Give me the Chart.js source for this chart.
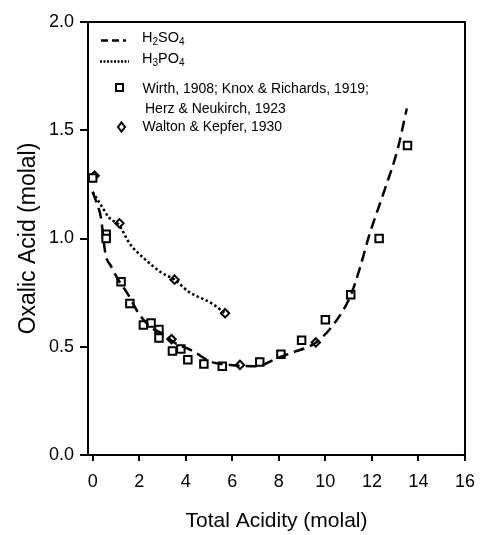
<!DOCTYPE html>
<html>
<head>
<meta charset="utf-8">
<script src="https://cdn.jsdelivr.net/npm/chart.js@4/dist/chart.umd.min.js"></script>
<style>
html,body{margin:0;padding:0;background:#fff;}
canvas{display:block;}
</style>
</head>
<body>
<canvas id="c" width="485" height="535"></canvas>
<script>
// H2SO4 model curve
const h2so4X = [0, 0.15, 0.35, 0.55, 0.8, 1.1, 1.5, 2.0, 2.5, 3.0, 3.5, 4.3, 5.1, 6.0, 7.0, 8.0, 8.5, 9.6, 10.4, 11.1, 11.5, 11.9, 12.5, 13.1, 13.5];
const h2so4Y = [1.215, 1.17, 1.1, 0.93, 0.87, 0.81, 0.745, 0.65, 0.59, 0.56, 0.52, 0.48, 0.43, 0.415, 0.41, 0.45, 0.47, 0.52, 0.61, 0.74, 0.87, 1.02, 1.21, 1.41, 1.60];
// H3PO4 model curve
const h3po4X = [0, 0.3, 0.72, 1.15, 1.57, 2.29, 2.99, 3.52, 4.13, 5.12, 5.69];
const h3po4Y = [1.215, 1.164, 1.095, 1.06, 0.98, 0.90, 0.84, 0.81, 0.754, 0.70, 0.655];
// Wirth 1908; Knox & Richards 1919; Herz & Neukirch 1923
const wirthX = [0.0, 0.58, 0.58, 1.22, 1.6, 2.18, 2.51, 2.85, 2.85, 3.43, 3.79, 4.09, 4.78, 5.57, 7.18, 8.09, 8.98, 10.0, 11.09, 12.31, 13.53];
const wirthY = [1.28, 1.02, 1.0, 0.80, 0.70, 0.60, 0.61, 0.58, 0.54, 0.48, 0.49, 0.44, 0.42, 0.41, 0.43, 0.465, 0.53, 0.625, 0.74, 1.0, 1.43];
// Walton & Kepfer 1930
const waltonX = [0.08, 1.15, 3.39, 3.52, 5.69, 6.33, 9.59];
const waltonY = [1.29, 1.07, 0.535, 0.81, 0.655, 0.416, 0.52];
// axis ticks
const xTicks = [0, 2, 4, 6, 8, 10, 12, 14, 16];
const yTicks = [0.0, 0.5, 1.0, 1.5, 2.0];

const pts = (xs, ys) => xs.map((x, i) => ({x: x, y: ys[i]}));
const FONT = "'Liberation Sans', Arial, sans-serif";

const framePlugin = {
  id: 'frame',
  afterDatasetsDraw(chart) {
    const {ctx, chartArea: a} = chart;
    ctx.save();
    ctx.strokeStyle = '#000';
    ctx.lineWidth = 2;
    ctx.beginPath();
    ctx.moveTo(a.left, a.top);
    ctx.lineTo(a.right, a.top);
    ctx.lineTo(a.right, a.bottom);
    ctx.stroke();
    ctx.restore();
  }
};

function drawFormula(ctx, parts, x, y, big, small) {
  let cx = x;
  parts.forEach(([t, sub]) => {
    ctx.font = (sub ? small : big) + 'px ' + FONT;
    ctx.fillText(t, cx, sub ? y + 3 : y);
    cx += ctx.measureText(t).width;
  });
}

const legendPlugin = {
  id: 'customLegend',
  afterDraw(chart) {
    const ctx = chart.ctx;
    ctx.save();
    ctx.fillStyle = '#000';
    ctx.strokeStyle = '#000';
    ctx.textBaseline = 'alphabetic';
    // H2SO4 sample
    ctx.lineWidth = 2.5;
    ctx.setLineDash([7, 4]);
    ctx.beginPath(); ctx.moveTo(101, 40.5); ctx.lineTo(126, 40.5); ctx.stroke();
    drawFormula(ctx, [['H', 0], ['2', 1], ['SO', 0], ['4', 1]], 142, 42, 14.5, 10);
    // H3PO4 sample
    ctx.setLineDash([2, 1.5]);
    ctx.beginPath(); ctx.moveTo(100, 61.5); ctx.lineTo(129, 61.5); ctx.stroke();
    drawFormula(ctx, [['H', 0], ['3', 1], ['PO', 0], ['4', 1]], 142, 63, 14.5, 10);
    ctx.setLineDash([]);
    // square
    ctx.lineWidth = 2;
    ctx.fillStyle = '#fff';
    ctx.beginPath(); ctx.rect(116, 84, 7, 7); ctx.fill(); ctx.stroke();
    // diamond
    ctx.beginPath();
    ctx.moveTo(121.5, 122.5); ctx.lineTo(125, 127); ctx.lineTo(121.5, 131.5); ctx.lineTo(118, 127); ctx.closePath();
    ctx.fill(); ctx.stroke();
    ctx.fillStyle = '#000';
    ctx.font = '14px ' + FONT;
    ctx.fillText('Wirth, 1908; Knox & Richards, 1919;', 142.5, 93);
    ctx.fillText('Herz & Neukirch, 1923', 145, 113);
    ctx.fillText('Walton & Kepfer, 1930', 142.5, 131);
    ctx.restore();
  }
};

new Chart(document.getElementById('c'), {
  type: 'scatter',
  data: {
    datasets: [
      {
        type: 'line', label: 'H2SO4', data: pts(h2so4X, h2so4Y),
        borderColor: '#000', borderWidth: 2.5, borderDash: [11, 6],
        pointRadius: 0, fill: false, cubicInterpolationMode: 'monotone'
      },
      {
        type: 'line', label: 'H3PO4', data: pts(h3po4X, h3po4Y),
        borderColor: '#000', borderWidth: 2.5, borderDash: [2.5, 2.5],
        pointRadius: 0, fill: false, cubicInterpolationMode: 'monotone'
      },
      {
        label: 'Wirth, 1908; Knox & Richards, 1919; Herz & Neukirch, 1923',
        data: pts(wirthX, wirthY), showLine: false,
        pointStyle: 'rect', pointRadius: 5.3, borderWidth: 2,
        borderColor: '#000', backgroundColor: '#fff'
      },
      {
        label: 'Walton & Kepfer, 1930',
        data: pts(waltonX, waltonY), showLine: false,
        pointStyle: 'rectRot', pointRadius: 4.2, borderWidth: 2,
        borderColor: '#000', backgroundColor: '#fff'
      }
    ]
  },
  options: {
    responsive: false,
    animation: false,
    events: [],
    layout: {padding: {left: 0, right: 16, top: 22, bottom: 0}},
    plugins: {legend: {display: false}, tooltip: {enabled: false}},
    scales: {
      x: {
        type: 'linear', min: -0.2, max: 16,
        afterBuildTicks: s => { s.ticks = xTicks.map(v => ({value: v})); },
        afterFit: s => { s.height = 80; },
        border: {display: true, color: '#000', width: 2},
        grid: {display: true, drawOnChartArea: false, drawTicks: true, tickLength: 6, color: '#000', lineWidth: 2},
        ticks: {color: '#000', font: {family: FONT, size: 18}, padding: 10, maxRotation: 0},
        title: {display: true, text: 'Total Acidity (molal)', color: '#000', font: {family: FONT, size: 21}, padding: {top: 0, bottom: 1}}
      },
      y: {
        type: 'linear', min: 0, max: 2,
        afterBuildTicks: s => { s.ticks = yTicks.map(v => ({value: v})); },
        afterFit: s => { s.width = 88; },
        border: {display: true, color: '#000', width: 2},
        grid: {display: true, drawOnChartArea: false, drawTicks: true, tickLength: 8, color: '#000', lineWidth: 2},
        ticks: {color: '#000', font: {family: FONT, size: 18}, padding: 6, callback: v => v.toFixed(1)},
        title: {display: true, text: 'Oxalic Acid (molal)', color: '#000', font: {family: FONT, size: 23}, padding: {top: 15, bottom: 0}}
      }
    }
  },
  plugins: [framePlugin, legendPlugin]
});
</script>
</body>
</html>
